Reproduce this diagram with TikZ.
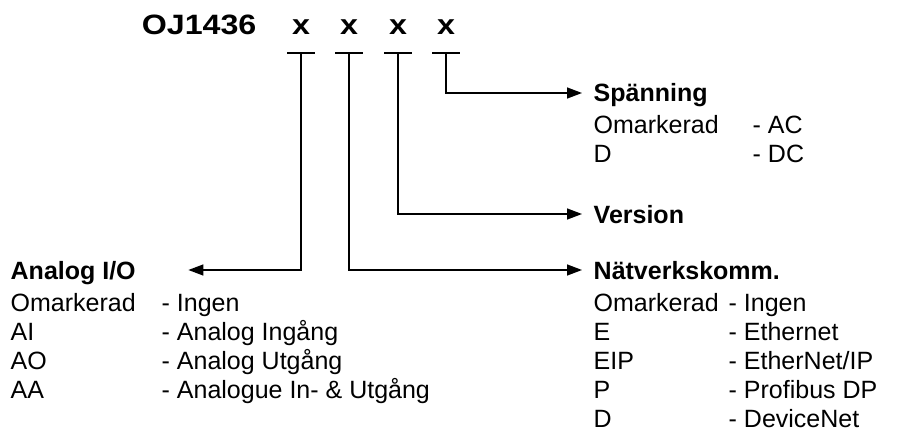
\documentclass[tikz,border=0pt]{standalone}
\usepackage{fontspec}
\setmainfont{Liberation Sans}
\usetikzlibrary{matrix, positioning, arrows.meta}

\tikzset{
  arr/.style={-{Triangle[length=15pt,width=11pt]}},
  head/.style={font=\bfseries, anchor=west, inner sep=0pt, text height=18pt, text depth=0pt},
  pick/.style={font=\fontsize{28}{34}\selectfont\bfseries, inner sep=0pt, xscale=1.15, transform shape},
  list/.style={matrix of nodes, inner sep=0pt, row sep=11pt, column sep=0pt, anchor=north west,
    nodes={anchor=west, inner sep=0pt, text height=18pt, text depth=0pt}},
}

\begin{document}
\begin{tikzpicture}[x=1pt, y=-1pt, line width=1.4pt]
		\useasboundingbox (0,0) rectangle (903,433);
		\fontsize{25}{30}\selectfont
		\node[pick, anchor=base west] (oj) at (141,35) {OJ1436};
		\foreach \i/\cx in {1/301, 2/349, 3/398, 4/446} {
			\coordinate (b\i) at (\cx,53);
			\draw ([xshift=-14pt]b\i) -- ([xshift=14pt]b\i);
			\node[pick, above=18pt of b\i] (x\i) {x};
		}
		
		\node[head] (spg) at (593,93) {Spänning};
		\node[head] (ver) at (593,214) {Version};
		\node[head] (net) at (593,270) {Nätverkskomm.};
		\node[head] (ana) at (10,270) {Analog I/O};
		
		\draw[arr] (b4) |- ([xshift=-11pt]spg.west);
		\draw[arr] (b3) |- ([xshift=-11pt]ver.west);
		\draw[arr] (b2) |- ([xshift=-11pt]net.west);
		\draw[arr] (b1) |- ([xshift=52pt]ana.east);
		
		\matrix (spglist) [list, column 1/.style={nodes={text width=159pt}}] at (593,115) {
			Omarkerad & - AC \\
			D & - DC \\
		};
		\matrix (netlist) [list, column 1/.style={nodes={text width=135pt}}] at (593,293) {
			Omarkerad & - Ingen \\
			E & - Ethernet \\
			EIP & - EtherNet/IP \\
			P & - Profibus DP \\
			D & - DeviceNet \\
		};
		\matrix (analist) [list, column 1/.style={nodes={text width=151pt}}] at (10,293) {
			Omarkerad & - Ingen \\
			AI & - Analog Ingång \\
			AO & - Analog Utgång \\
			AA & - Analogue In- \& Utgång \\
		};
	\end{tikzpicture}
\end{document}
